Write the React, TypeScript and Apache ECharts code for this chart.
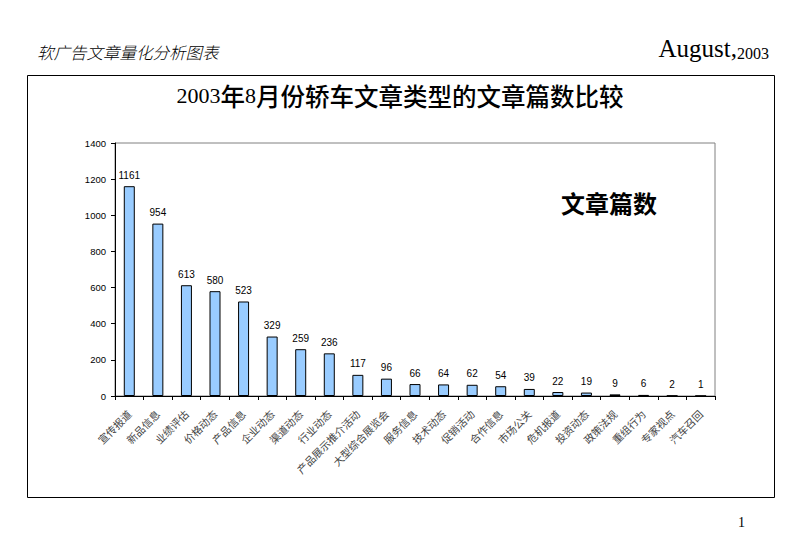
import React, { useEffect, useRef } from "react";
import * as echarts from "echarts";

const categories = [
  "宣传报道", "新品信息", "业绩评估", "价格动态", "产品信息", "企业动态", "渠道动态",
  "行业动态", "产品展示推介活动", "大型综合展览会", "服务信息", "技术动态", "促销活动",
  "合作信息", "市场公关", "危机报道", "投资动态", "政策法规", "重组行为", "专家视点", "汽车召回",
];
const articleCounts = [1161, 954, 613, 580, 523, 329, 259, 236, 117, 96, 66, 64, 62, 54, 39, 22, 19, 9, 6, 2, 1];
const yTicks = [0, 200, 400, 600, 800, 1000, 1200, 1400];

export default function App() {
  const ref = useRef<HTMLDivElement>(null);
  useEffect(() => {
    const chart = echarts.init(ref.current!, null, { renderer: "svg" });
    chart.setOption({
      animation: false,
      backgroundColor: "#ffffff",
      grid: {
        left: 115, right: 85, top: 143, bottom: 157,
        show: true, borderColor: "#808080", borderWidth: 1, backgroundColor: "transparent",
      },
      xAxis: {
        type: "category",
        data: categories,
        axisLine: { lineStyle: { color: "#000", width: 1 } },
        axisTick: { show: true, alignWithLabel: false, length: 4, lineStyle: { color: "#000" } },
        axisLabel: {
          interval: 0, rotate: 45, fontSize: 10.5, color: "#444",
          fontFamily: "Noto Sans CJK SC", margin: 16,
        },
      },
      yAxis: {
        type: "value",
        min: 0, max: yTicks[yTicks.length - 1], interval: 200,
        axisLine: { show: true, lineStyle: { color: "#000", width: 1 } },
        axisTick: { show: true, length: 4, lineStyle: { color: "#000" } },
        axisLabel: {
          fontSize: 9.5, color: "#000", fontFamily: "Arial, Liberation Sans", margin: 9,
          formatter: (v: number) => String(v),
        },
        splitLine: { show: false },
      },
      series: [
        {
          type: "bar",
          data: articleCounts,
          barWidth: 11,
          itemStyle: { color: "#99CCFF", borderColor: "#000", borderWidth: 1 },
          label: {
            show: true, position: "top", distance: 6, fontSize: 10, color: "#000",
            fontFamily: "Arial, Liberation Sans",
          },
        },
      ],
      graphic: [
        {
          type: "text", left: 37, top: 44,
          style: { text: "软广告文章量化分析图表", fontSize: 16.5, fontStyle: "italic", fontFamily: "Noto Sans CJK SC", fontWeight: 300, fill: "#000" },
        },
        {
          type: "text", right: 31, top: 36,
          style: {
            text: "{a|August,}{b|2003}",
            rich: {
              a: { fontSize: 25, fontFamily: "Liberation Serif, Times New Roman", fill: "#000" },
              b: { fontSize: 16, fontFamily: "Liberation Serif, Times New Roman", fill: "#000", verticalAlign: "bottom" },
            },
          },
        },
        {
          type: "rect",
          shape: { x: 27.5, y: 75.5, width: 747, height: 422 },
          style: { fill: "none", stroke: "#000", lineWidth: 1 },
          z: -1,
        },
        {
          type: "text", left: "center", top: 83,
          style: {
            text: "{a|2003}{b|年}{a|8}{b|月份轿车文章类型的文章篇数比较}",
            rich: {
              a: { fontSize: 22, fontFamily: "Liberation Serif, Times New Roman", fill: "#000" },
              b: { fontSize: 24.5, fontFamily: "Noto Sans CJK SC", fontWeight: 500, fill: "#000" },
            },
          },
        },
        {
          type: "text", left: 561, top: 190,
          style: { text: "文章篇数", fontSize: 24, fontWeight: "bold", fontFamily: "Noto Sans CJK SC", fill: "#000" },
        },
        {
          type: "text", left: 738, top: 515,
          style: { text: "1", fontSize: 14, fontFamily: "Liberation Serif, Times New Roman", fill: "#000" },
        },
      ],
    });
    return () => chart.dispose();
  }, []);
  return <div ref={ref} style={{ width: 800, height: 553, position: "absolute", left: 0, top: 0 }} />;
}
